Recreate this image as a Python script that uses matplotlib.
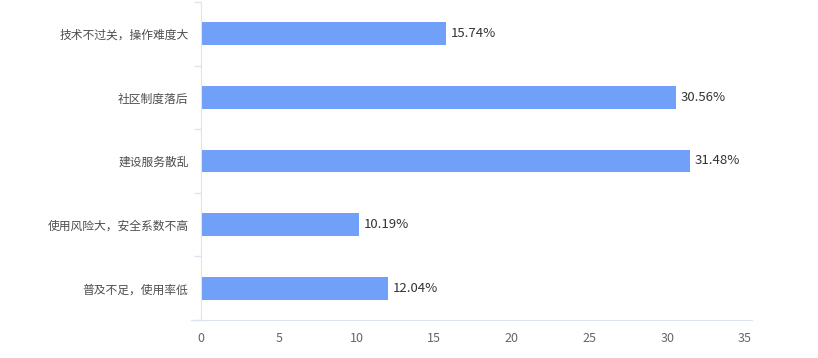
import matplotlib.pyplot as plt

plt.rcParams['font.family'] = ['Noto Sans CJK SC', 'DejaVu Sans']

categories = ['技术不过关，操作难度大', '社区制度落后', '建设服务散乱',
              '使用风险大，安全系数不高', '普及不足，使用率低']
values = [15.74, 30.56, 31.48, 10.19, 12.04]
xticks = [0, 5, 10, 15, 20, 25, 30, 35]

bar_color = '#70a0f8'
axis_color = '#dde3f1'

fig = plt.figure(figsize=(8.18, 3.58), dpi=100)
ax = fig.add_axes([191 / 818, 38 / 358, 561 / 818, 318 / 358])

pos = list(range(len(categories)))[::-1]
ax.barh(pos, values, height=0.36, color=bar_color)
for y, v in zip(pos, values):
    ax.text(v + 0.3, y, f'{v:.2f}%', va='center', ha='left',
            fontsize=9.5, color='#333333')

ax.set_xlim(-0.65, 35.45)
ax.set_ylim(-0.5, len(categories) - 0.5)
ax.set_xticks(xticks)
ax.set_yticks(pos)
ax.set_yticklabels(categories)
ax.set_yticks([p - 0.5 for p in range(len(categories) + 1)], minor=True)

ax.tick_params(axis='x', length=0, pad=9, labelsize=9, labelcolor='#666666')
ax.tick_params(axis='y', which='major', length=0, pad=9, labelsize=8.5,
               labelcolor='#4d4d4d')
ax.tick_params(axis='y', which='minor', length=5, color=axis_color, width=1)

for s in ['top', 'right']:
    ax.spines[s].set_visible(False)
ax.spines['left'].set_position(('data', 0))
ax.spines['left'].set_color(axis_color)
ax.spines['bottom'].set_color(axis_color)

fig.savefig('out.png', dpi=100)
